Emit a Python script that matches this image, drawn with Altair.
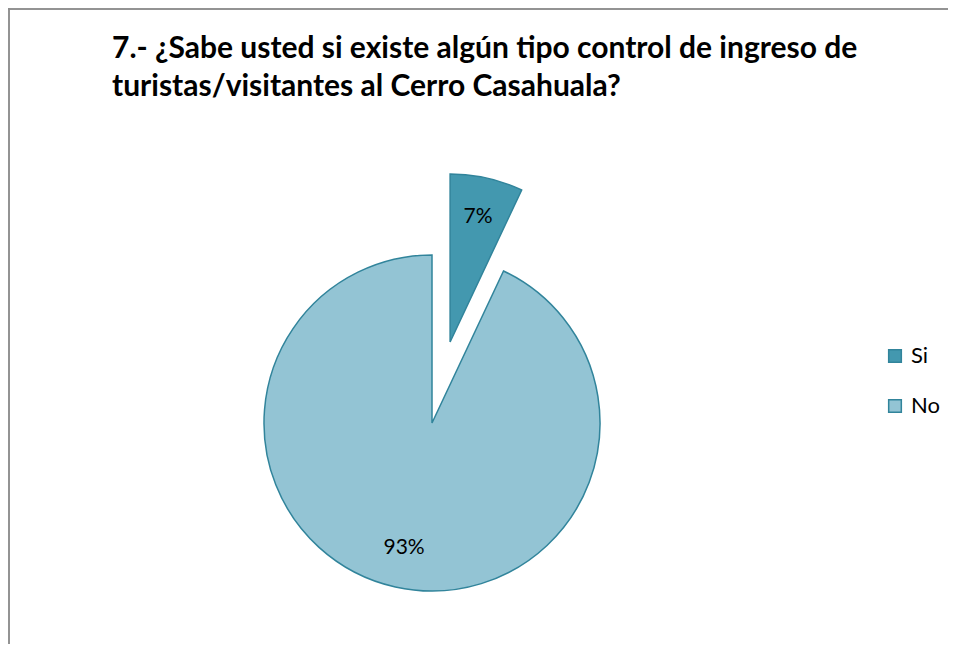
import altair as alt
import pandas as pd

# ---- data ----
categories = ["Si", "No"]
values = [7, 93]
order = [0, 1]
title_lines = ["7.- ¿Sabe usted si existe algún tipo control de ingreso de",
               "turistas/visitantes al Cerro Casahuala?"]

# ---- style ----
fills = ["#4398AF", "#93C4D4"]
edge = "#31849B"
W, H = 940, 636
CX, CY, R = 424, 415, 168
EXPLODE = 83
LR = 128
FONT = "Lato"

df = pd.DataFrame({"cat": categories, "val": values, "ord": order})

base = alt.Chart(df).transform_window(
    cum="sum(val)", sort=[alt.SortField("ord")], frame=[None, 0]
).transform_joinaggregate(
    total="sum(val)"
).transform_calculate(
    t1="datum.cum / datum.total * 2 * PI",
    t0="(datum.cum - datum.val) / datum.total * 2 * PI",
).transform_calculate(
    mid="(datum.t0 + datum.t1) / 2",
    off=f"datum.cat == '{categories[0]}' ? {EXPLODE} : 0",
).transform_calculate(
    cx=f"{CX} + datum.off * sin(datum.mid)",
    cy=f"{CY} - datum.off * cos(datum.mid)",
).transform_calculate(
    lx=f"datum.cx + {LR} * sin(datum.mid)",
    ly=f"datum.cy - {LR} * cos(datum.mid)",
    label="format(datum.val / datum.total, '.0%')",
)

arcs = base.mark_arc(radius=R, stroke=edge, strokeWidth=1.5).encode(
    theta=alt.Theta("t0:Q", scale=None),
    theta2="t1:Q",
    x=alt.X("cx:Q", scale=None),
    y=alt.Y("cy:Q", scale=None),
    color=alt.Color(
        "cat:N",
        scale=alt.Scale(domain=categories, range=fills),
        legend=alt.Legend(
            title=None,
            orient="none",
            legendX=876,
            legendY=337,
            symbolType="square",
            symbolSize=160,
            symbolStrokeColor=edge,
            symbolStrokeWidth=1.5,
            labelFontSize=22,
            labelFont=FONT,
            labelColor="#000000",
            labelOffset=5,
            rowPadding=28,
        ),
    ),
)

labels = base.mark_text(fontSize=21, font=FONT, color="#000000", baseline="middle", align="center").encode(
    x=alt.X("lx:Q", scale=None),
    y=alt.Y("ly:Q", scale=None),
    text="label:N",
)

title_df = pd.DataFrame({"t": ["\n".join(title_lines)]})
title = alt.Chart(title_df).mark_text(
    font=FONT, fontSize=30, fontWeight="bold", color="#000000",
    align="left", baseline="alphabetic", lineBreak="\n", lineHeight=38,
).encode(
    x=alt.value(104), y=alt.value(50), text="t:N"
)

frame_left = alt.Chart(df).mark_rule(color="#8C8C8C", strokeWidth=1.5).encode(
    x=alt.value(1), y=alt.value(0), y2=alt.value(H)
)
frame_top = alt.Chart(df).mark_rule(color="#8C8C8C", strokeWidth=1.5).encode(
    x=alt.value(0), x2=alt.value(W), y=alt.value(1)
)

chart = alt.layer(frame_left, frame_top, title, arcs, labels).properties(
    width=W,
    height=H,
    autosize=alt.AutoSizeParams(type="none"),
    padding=0,
).configure_view(stroke=None)

chart.save("out.html", embed_options={"renderer": "svg", "actions": False})
